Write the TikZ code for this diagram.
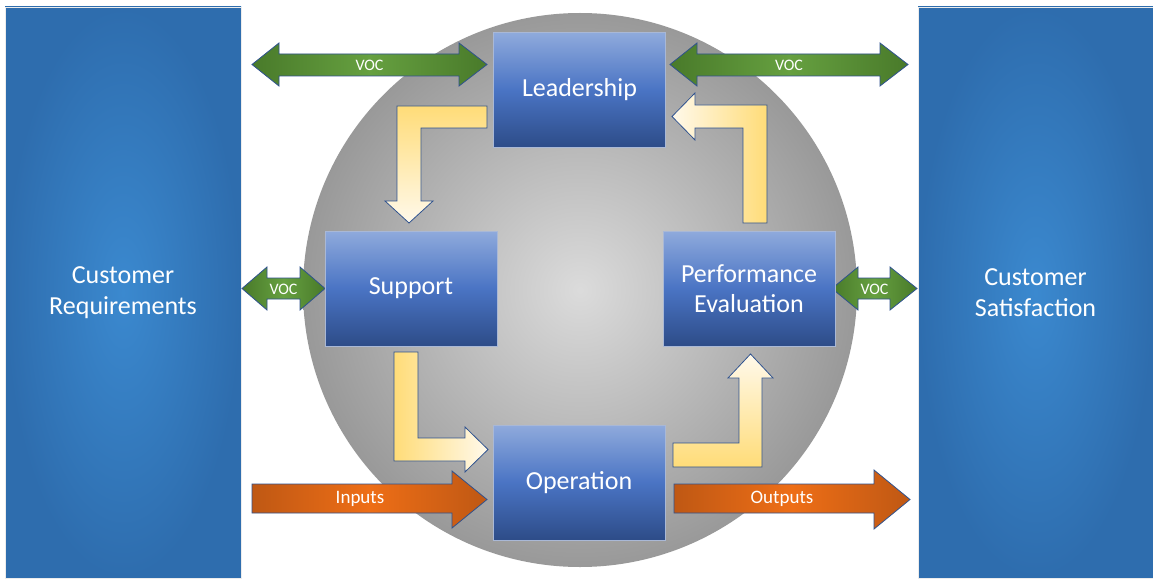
\documentclass[tikz,border=0pt]{standalone}
\usepackage{fontspec}
\setmainfont{Carlito}
\usetikzlibrary{calc}

\definecolor{paneldark}{HTML}{2E6DAE}
\definecolor{panellight}{HTML}{3B89CF}
\definecolor{stagetop}{HTML}{8FAADC}
\definecolor{stagemid}{HTML}{4A74C4}
\definecolor{stagebot}{HTML}{2D4C88}
\definecolor{stageedge}{HTML}{A9B8D6}
\definecolor{vocdark}{HTML}{497A2A}
\definecolor{voclight}{HTML}{66A040}
\definecolor{iodark}{HTML}{BF5814}
\definecolor{iolight}{HTML}{EE6E16}
\definecolor{linkdark}{HTML}{FFDC78}
\definecolor{linklight}{HTML}{FFF9EB}
\definecolor{edgeblue}{HTML}{2F528F}

\begin{document}
\begin{tikzpicture}[x=1pt, y=-1pt,
  every node/.style={text=white},
  panel/.style={draw=gray!15, inner color=panellight, outer color=paneldark,
    minimum width=236pt, minimum height=571pt, align=center,
    font=\fontsize{26}{31}\selectfont},
  stage/.style={draw=stageedge, line width=0.8pt, top color=stagetop,
    bottom color=stagebot, middle color=stagemid, minimum width=172pt,
    minimum height=115pt, align=center, font=\fontsize{26}{30}\selectfont},
  vocarrow/.style={draw=edgeblue, line width=0.8pt, left color=vocdark,
    right color=vocdark, middle color=voclight},
  ioarrow/.style={draw=edgeblue, line width=0.8pt, left color=iodark,
    right color=iodark, middle color=iolight},
  link/.style={draw=edgeblue, line width=0.8pt},
  voclabel/.style={font=\fontsize{16}{18}\selectfont},
  iolabel/.style={font=\fontsize{19}{22}\selectfont}]

  % Page frame
  \useasboundingbox (0,0) rectangle (1153,580);
  \fill[white] (0,0) rectangle (1153,580);

  % Customer panels on both sides
  \node[panel] (req) at (123,292.5) {Customer\\Requirements};
  \node[panel, minimum width=235pt] (sat) at (1035.5,292.5) {Customer\\Satisfaction};

  % Grey disc behind the cycle
  \shade[inner color=gray!28, outer color=gray!80] (580,290) circle (277);

  % Voice of the customer arrows
  \shade[vocarrow] (252,64.5) -- (279,43) -- (279,54) -- (459,54) -- (459,43)
    -- (487,64.5) -- (459,86) -- (459,76) -- (279,76) -- (279,86) -- cycle;
  \node[voclabel] (voc1) at (369.5,65) {VOC};
  \shade[vocarrow] (670,64.5) -- (697,43) -- (697,54) -- (880,54) -- (880,43)
    -- (908,64.5) -- (880,86) -- (880,76) -- (697,76) -- (697,86) -- cycle;
  \node[voclabel] (voc2) at (789,65) {VOC};
  \shade[vocarrow] (242,288.5) -- (267,267) -- (267,278) -- (300,278) -- (300,267)
    -- (325,288.5) -- (300,310) -- (300,299) -- (267,299) -- (267,310) -- cycle;
  \node[voclabel] (voc3) at (283.5,289) {VOC};
  \shade[vocarrow] (832,288.5) -- (858,267) -- (858,278) -- (890,278) -- (890,267)
    -- (917,288.5) -- (890,310) -- (890,299) -- (858,299) -- (858,310) -- cycle;
  \node[voclabel] (voc4) at (874.5,289) {VOC};

  % Inputs and outputs
  \shade[ioarrow] (252,484) -- (452,484) -- (452,471) -- (487,499.5)
    -- (452,528) -- (452,513) -- (252,513) -- cycle;
  \node[iolabel] (in) at (360,499) {Inputs};
  \shade[ioarrow] (674,484) -- (874,484) -- (874,470) -- (910,499.5)
    -- (874,529) -- (874,513) -- (674,513) -- cycle;
  \node[iolabel] (out) at (782,499) {Outputs};

  % Bent arrows of the cycle
  \shade[link, top color=linkdark, bottom color=linklight]
    (487,106) -- (397,106) -- (397,201) -- (385,201) -- (409,223)
    -- (433,201) -- (421,201) -- (421,128) -- (487,128) -- cycle;
  \shade[link, left color=linkdark, right color=linklight]
    (394,352) -- (418,352) -- (418,438) -- (465,438) -- (465,427)
    -- (488,449.5) -- (465,472) -- (465,461) -- (394,461) -- cycle;
  \shade[link, top color=linklight, bottom color=linkdark]
    (673,443) -- (739,443) -- (739,378) -- (728,378) -- (750.5,354)
    -- (773,378) -- (762,378) -- (762,467) -- (673,467) -- cycle;
  \shade[link, left color=linklight, right color=linkdark]
    (743,223) -- (767,223) -- (767,105) -- (695,105) -- (695,93)
    -- (672,116.5) -- (695,140) -- (695,128) -- (743,128) -- cycle;

  % Stages
  \node[stage] (lead) at (579.5,90) {Leadership};
  \node[stage] (supp) at (411,288.5) {Support};
  \node[stage] (perf) at (749,288.5) {Performance\\Evaluation};
  \node[stage] (oper) at (579,482.5) {Operation};
\end{tikzpicture}
\end{document}
